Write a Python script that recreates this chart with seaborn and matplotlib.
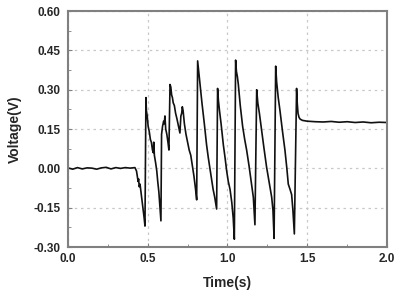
import pandas as pd
import seaborn as sns
import matplotlib.pyplot as plt
from matplotlib.ticker import MultipleLocator

# key points (time in s, voltage in V)
tiempo = [
    0.00, 0.03, 0.06, 0.09, 0.12, 0.15, 0.18, 0.21, 0.24, 0.27, 0.30, 0.33, 0.36, 0.39, 0.42,
    0.43, 0.435, 0.44, 0.443, 0.447, 0.452, 0.46, 0.47, 0.478, 0.483,
    0.489, 0.492, 0.497, 0.503, 0.51, 0.517, 0.523, 0.53, 0.535, 0.538, 0.542, 0.55, 0.557, 0.563, 0.57, 0.576, 0.583,
    0.587, 0.593, 0.600, 0.604, 0.608, 0.613, 0.62, 0.627, 0.633,
    0.640, 0.645, 0.65, 0.655, 0.66, 0.667, 0.675, 0.683, 0.69, 0.697, 0.702, 0.708, 0.713, 0.717,
    0.722, 0.73, 0.74, 0.75, 0.76, 0.77, 0.78, 0.79, 0.80, 0.807,
    0.813, 0.818, 0.823, 0.828, 0.84, 0.855, 0.869, 0.88, 0.895, 0.91, 0.92, 0.932,
    0.938, 0.943, 0.95, 0.96, 0.974, 0.985, 0.995, 1.005, 1.016, 1.027, 1.036, 1.043,
    1.051, 1.056, 1.062, 1.068, 1.08, 1.095, 1.108, 1.12, 1.135, 1.151, 1.162, 1.172,
    1.183, 1.19, 1.2, 1.214, 1.228, 1.245, 1.26, 1.277, 1.285, 1.292,
    1.302, 1.308, 1.318, 1.329, 1.345, 1.36, 1.372, 1.381, 1.392, 1.402, 1.41, 1.419,
    1.433, 1.437, 1.442, 1.448, 1.455, 1.47, 1.50, 1.55, 1.60, 1.65, 1.70, 1.75, 1.80, 1.85, 1.90, 1.95, 2.00,
]
voltaje = [
    0.002, -0.003, 0.003, -0.002, 0.002, 0.001, -0.003, 0.002, 0.004, -0.002, 0.003, 0.000, 0.003, 0.001, 0.003,
    -0.01, -0.03, -0.05, -0.04, -0.07, -0.06, -0.10, -0.15, -0.19, -0.22,
    0.27, 0.22, 0.20, 0.16, 0.14, 0.11, 0.10, 0.07, 0.06, 0.10, 0.05, 0.02, -0.01, -0.05, -0.09, -0.14, -0.20,
    0.13, 0.16, 0.18, 0.17, 0.20, 0.15, 0.13, 0.10, 0.07,
    0.32, 0.31, 0.28, 0.27, 0.25, 0.24, 0.21, 0.19, 0.17, 0.15, 0.135, 0.20, 0.21, 0.235,
    0.22, 0.17, 0.13, 0.10, 0.07, 0.05, 0.01, -0.03, -0.08, -0.12,
    0.41, 0.38, 0.35, 0.32, 0.25, 0.17, 0.09, 0.04, -0.02, -0.08, -0.11, -0.155,
    0.305, 0.26, 0.22, 0.17, 0.09, 0.04, -0.01, -0.05, -0.08, -0.13, -0.19, -0.27,
    0.413, 0.37, 0.35, 0.32, 0.24, 0.16, 0.11, 0.07, 0.01, -0.06, -0.11, -0.215,
    0.30, 0.25, 0.21, 0.145, 0.08, 0.005, -0.05, -0.11, -0.16, -0.267,
    0.39, 0.33, 0.27, 0.22, 0.14, 0.07, 0.00, -0.06, -0.08, -0.10, -0.16, -0.25,
    0.305, 0.25, 0.21, 0.195, 0.188, 0.183, 0.180, 0.178, 0.177, 0.179, 0.176, 0.178, 0.175, 0.177, 0.174, 0.176, 0.175,
]

df = pd.DataFrame({"Tiempo": tiempo, "Voltaje": voltaje})

sns.set_style("ticks")
plt.rcParams["font.family"] = ["Liberation Sans", "DejaVu Sans"]

fig = plt.figure(figsize=(3.97, 2.91), dpi=100)
ax = fig.add_axes([0.171, 0.151, 0.804, 0.811])
sns.lineplot(data=df, x="Tiempo", y="Voltaje", color="#111111", linewidth=1.2, ax=ax)

ax.set_xlim(0, 2.0)
ax.set_ylim(-0.30, 0.60)
ax.xaxis.set_major_locator(MultipleLocator(0.5))
ax.xaxis.set_minor_locator(MultipleLocator(0.25))
ax.yaxis.set_major_locator(MultipleLocator(0.15))
ax.yaxis.set_minor_locator(MultipleLocator(0.075))
ax.xaxis.set_major_formatter(plt.FormatStrFormatter("%.1f"))
ax.yaxis.set_major_formatter(plt.FormatStrFormatter("%.2f"))
ax.grid(True, which="major", color="#c8c8c8", linestyle=(0, (2, 3)), linewidth=0.9)

for s in ax.spines.values():
    s.set_color("#808080")
    s.set_linewidth(1.5)
ax.tick_params(which="both", direction="in", color="#808080", labelsize=8.5)
ax.tick_params(axis="y", pad=5.5)
ax.tick_params(axis="x", pad=4)
ax.tick_params(which="major", length=3)
ax.tick_params(which="minor", length=2)
for lab in ax.get_xticklabels() + ax.get_yticklabels():
    lab.set_fontweight("bold")

ax.set_xlabel("Time(s)", fontsize=10, fontweight="bold", labelpad=8)
ax.set_ylabel("Voltage(V)", fontsize=10, fontweight="bold", labelpad=8)

fig.savefig("out.png", dpi=100)
